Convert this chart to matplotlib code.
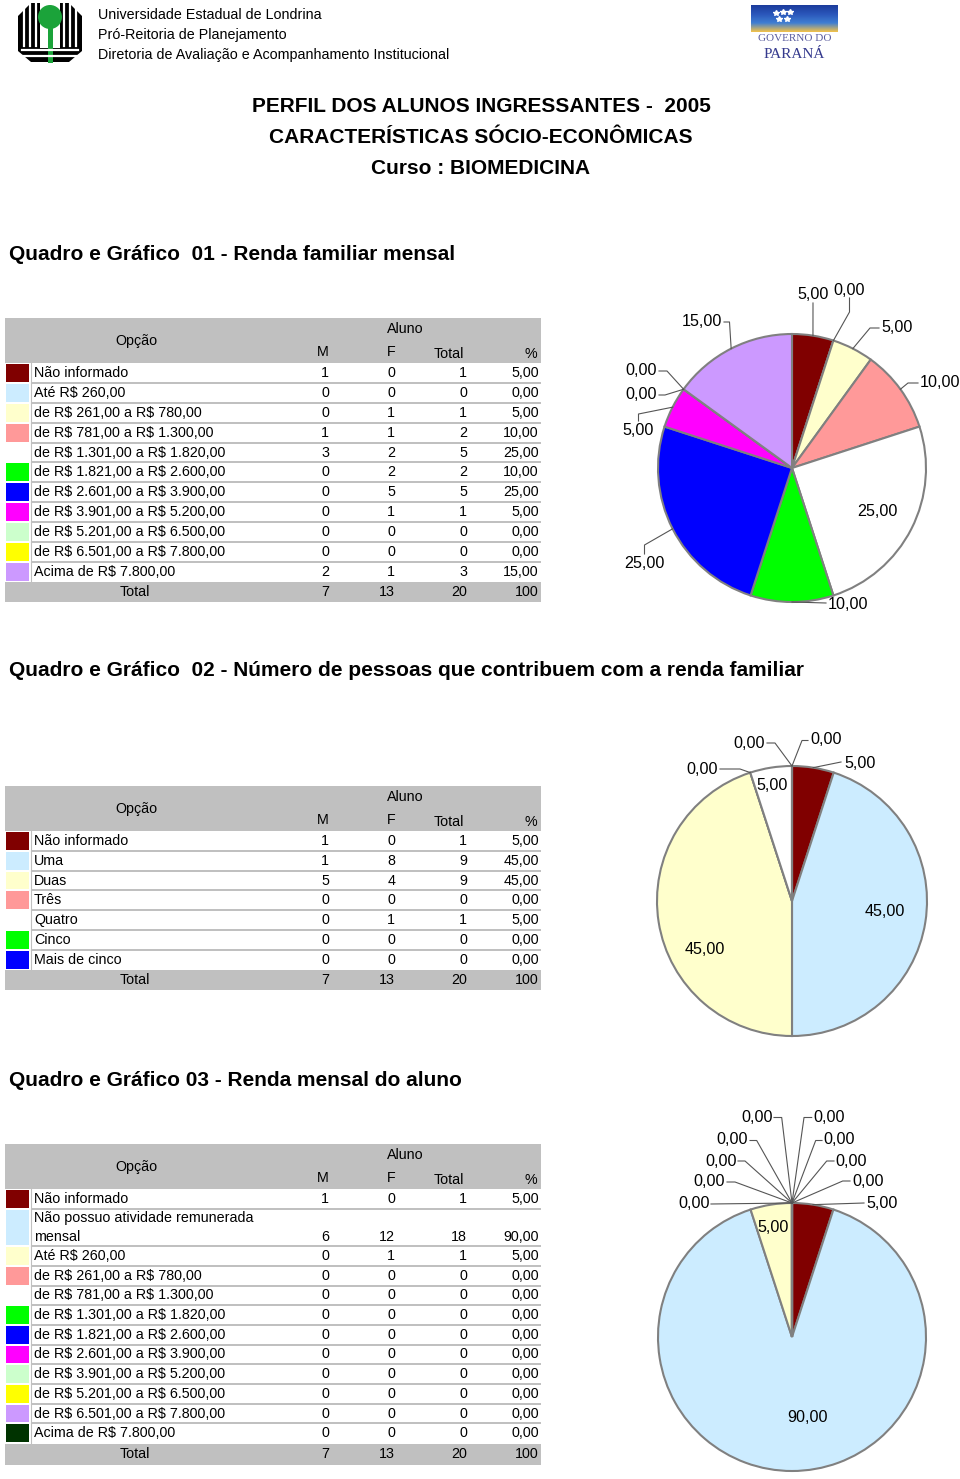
import matplotlib
matplotlib.use('Agg')
import matplotlib.pyplot as plt
import numpy as np
from matplotlib.patches import Rectangle, Polygon, Circle

plt.rcParams['font.family'] = ['Liberation Sans', 'DejaVu Sans']
plt.rcParams['text.parse_math'] = False

W, H = 960, 1479

# ---------------- data ----------------
palette = ['#800000', '#CCECFF', '#FFFFCC', '#FF9999', '#FFFFFF', '#00FF00',
           '#0000FF', '#FF00FF', '#CCFFCC', '#FFFF00', '#CC99FF', '#003300']

q1_options = ["Não informado", "Até R$ 260,00", "de R$ 261,00 a R$ 780,00",
              "de R$ 781,00 a R$ 1.300,00", "de R$ 1.301,00 a R$ 1.820,00",
              "de R$ 1.821,00 a R$ 2.600,00", "de R$ 2.601,00 a R$ 3.900,00",
              "de R$ 3.901,00 a R$ 5.200,00", "de R$ 5.201,00 a R$ 6.500,00",
              "de R$ 6.501,00 a R$ 7.800,00", "Acima de R$ 7.800,00"]
q1_m = [1, 0, 0, 1, 3, 0, 0, 0, 0, 0, 2]
q1_f = [0, 0, 1, 1, 2, 2, 5, 1, 0, 0, 1]
q1_total = [1, 0, 1, 2, 5, 2, 5, 1, 0, 0, 3]
q1_pct = [5.0, 0.0, 5.0, 10.0, 25.0, 10.0, 25.0, 5.0, 0.0, 0.0, 15.0]
q1_sum = ["7", "13", "20", "100"]

q2_options = ["Não informado", "Uma", "Duas", "Três", "Quatro", "Cinco", "Mais de cinco"]
q2_m = [1, 1, 5, 0, 0, 0, 0]
q2_f = [0, 8, 4, 0, 1, 0, 0]
q2_total = [1, 9, 9, 0, 1, 0, 0]
q2_pct = [5.0, 45.0, 45.0, 0.0, 5.0, 0.0, 0.0]
q2_sum = ["7", "13", "20", "100"]

q3_options = ["Não informado", "Não possuo atividade remunerada\nmensal", "Até R$ 260,00",
              "de R$ 261,00 a R$ 780,00", "de R$ 781,00 a R$ 1.300,00",
              "de R$ 1.301,00 a R$ 1.820,00", "de R$ 1.821,00 a R$ 2.600,00",
              "de R$ 2.601,00 a R$ 3.900,00", "de R$ 3.901,00 a R$ 5.200,00",
              "de R$ 5.201,00 a R$ 6.500,00", "de R$ 6.501,00 a R$ 7.800,00",
              "Acima de R$ 7.800,00"]
q3_m = [1, 6, 0, 0, 0, 0, 0, 0, 0, 0, 0, 0]
q3_f = [0, 12, 1, 0, 0, 0, 0, 0, 0, 0, 0, 0]
q3_total = [1, 18, 1, 0, 0, 0, 0, 0, 0, 0, 0, 0]
q3_pct = [5.0, 90.0, 5.0, 0.0, 0.0, 0.0, 0.0, 0.0, 0.0, 0.0, 0.0, 0.0]
q3_sum = ["7", "13", "20", "100"]

header_lines = ["Universidade Estadual de Londrina", "Pró-Reitoria de Planejamento",
                "Diretoria de Avaliação e Acompanhamento Institucional"]
title_lines = ["PERFIL DOS ALUNOS INGRESSANTES -  2005",
               "CARACTERÍSTICAS SÓCIO-ECONÔMICAS", "Curso : BIOMEDICINA"]
section_titles = ["Quadro e Gráfico  01 - Renda familiar mensal",
                  "Quadro e Gráfico  02 - Número de pessoas que contribuem com a renda familiar",
                  "Quadro e Gráfico 03 - Renda mensal do aluno"]

# ---------------- layout ----------------
TFS = 10.3      # table font size
PFS = 11.6      # pie label font size
GRAY = '#C0C0C0'


def fmt(v):
    return f"{v:.2f}".replace('.', ',')


fig = plt.figure(figsize=(W / 100, H / 100), dpi=100)
bg = fig.add_axes([0, 0, 1, 1])
bg.set_xlim(0, W)
bg.set_ylim(H, 0)
bg.axis('off')

# ---- UEL logo ----
oct_pts = [(31, 3), (69, 3), (82, 16), (82, 51), (69, 62), (31, 62), (18, 51), (18, 16)]
bg.add_patch(Polygon(oct_pts, closed=True, fc='black', ec='none'))
for x in [24, 30, 36, 64, 70, 76]:
    bg.plot([x, x], [2, 46], color='white', lw=1.6)
bg.add_patch(Rectangle((40, 0), 20, 48, fc='white', ec='none'))
for y in [50, 56]:
    bg.plot([22, 78], [y, y], color='white', lw=1.6)
bg.add_patch(Rectangle((47.5, 26), 5, 37, fc='#1BA33A', ec='none'))
bg.add_patch(Circle((50, 17), 12, fc='#1BA33A', ec='none'))

# ---- Paraná logo ----
grad = np.linspace(0, 1, 60)[:, None]
cmap = matplotlib.colors.LinearSegmentedColormap.from_list(
    'pr', ['#1C3C9C', '#2A56BA', '#3F7ED2', '#F2C24A'])
bg.imshow(np.repeat(grad, 10, axis=1), cmap=cmap, extent=(751, 838, 32, 5),
          origin='upper', aspect='auto', zorder=1)
for (sx, sy) in [(776, 13), (783, 12), (790, 12), (779, 19), (787, 19)]:
    bg.plot(sx, sy, marker='*', color='white', ms=4, zorder=2)
bg.text(794.5, 41, "GOVERNO DO", family=['Liberation Serif', 'DejaVu Serif'],
        fontsize=8, color='#5A5C9E', ha='center', va='baseline')
bg.text(794.5, 58, "PARANÁ", family=['Liberation Serif', 'DejaVu Serif'],
        fontsize=11, color='#353A8E', ha='center', va='baseline')

# ---- header text ----
for i, s in enumerate(header_lines):
    bg.text(98, 15 + 20 * i, s, fontsize=10.3, ha='left', va='center')
for i, s in enumerate(title_lines):
    bg.text(481, 107 + 30.5 * i, s, fontsize=15, fontweight='bold', ha='center', va='center')
for s, y in zip(section_titles, [254, 671, 1081]):
    bg.text(9, y, s, fontsize=15, fontweight='bold', ha='left', va='center')


def draw_table(top, row_h, options, m, f, tot, pct, sums, total_h, two_line_h=None):
    x0, x1 = 5, 541
    hdr_h = 45
    bg.add_patch(Rectangle((x0, top), x1 - x0, hdr_h, fc=GRAY, ec='none'))
    bg.text(136, top + 23, "Opção", fontsize=TFS, ha='center', va='center')
    bg.text(405, top + 11, "Aluno", fontsize=TFS, ha='center', va='center')
    hy = top + 34.5
    bg.text(323, hy, "M", fontsize=TFS, ha='center', va='center')
    bg.text(391, hy, "F", fontsize=TFS, ha='center', va='center')
    bg.text(449, hy + 1, "Total", fontsize=TFS, ha='center', va='center')
    bg.text(531, hy + 1, "%", fontsize=TFS, ha='center', va='center')
    y = top + hdr_h
    for i, opt in enumerate(options):
        lines = opt.split('\n')
        h = row_h if len(lines) == 1 else (two_line_h or 2 * row_h)
        bg.add_patch(Rectangle((6, y + 1), 23, h - 2, fc=palette[i], ec='none'))
        bg.add_patch(Rectangle((31, y), x1 - 31, h, fc='white', ec='none'))
        if i > 0:
            bg.add_patch(Rectangle((31, y - 1), x1 - 31, 2, fc=GRAY, ec='none', zorder=3))
        bg.plot([30.5, 30.5], [y, y + h], color=GRAY, lw=0.8)
        lh = h / len(lines)
        for j, ln in enumerate(lines):
            bg.text(34, y + lh * (j + 0.5), ln, fontsize=TFS, ha='left', va='center')
        ny = y + lh * (len(lines) - 0.5)
        bg.text(329, ny, str(m[i]), fontsize=TFS, ha='right', va='center')
        bg.text(395, ny, str(f[i]), fontsize=TFS, ha='right', va='center')
        bg.text(467, ny, str(tot[i]), fontsize=TFS, ha='right', va='center')
        bg.text(539, ny, fmt(pct[i]), fontsize=TFS, ha='right', va='center')
        y += h
    y += 0.5
    bg.add_patch(Rectangle((x0, y), x1 - x0, total_h, fc=GRAY, ec='none'))
    cy = y + total_h / 2
    bg.text(135, cy, "Total", fontsize=TFS, ha='center', va='center')
    bg.text(329, cy, sums[0], fontsize=TFS, ha='right', va='center')
    bg.text(395, cy, sums[1], fontsize=TFS, ha='right', va='center')
    bg.text(467, cy, sums[2], fontsize=TFS, ha='right', va='center')
    bg.text(539, cy, sums[3], fontsize=TFS, ha='right', va='center')


draw_table(318, 19.9, q1_options, q1_m, q1_f, q1_total, q1_pct, q1_sum, 19.5)
draw_table(786, 19.83, q2_options, q2_m, q2_f, q2_total, q2_pct, q2_sum, 20)
draw_table(1144, 19.7, q3_options, q3_m, q3_f, q3_total, q3_pct, q3_sum, 21, two_line_h=37.4)


def draw_pie(cx, cy, r, values, colors, layout):
    k = 1.75
    ax = fig.add_axes([(cx - k * r) / W, 1 - (cy + k * r) / H, 2 * k * r / W, 2 * k * r / H])
    ax.pie(values, colors=colors, startangle=90, counterclock=False,
           wedgeprops=dict(edgecolor='#808080', linewidth=1.5))
    ax.set_xlim(-k, k)
    ax.set_ylim(-k, k)
    ax.set_aspect('equal')
    ax.axis('off')

    def p(px, py):
        return (px - cx) / r, (cy - py) / r

    total = float(sum(values))
    cum = 0.0
    for v, lay in zip(values, layout):
        theta = np.deg2rad(90 - 360 * (cum + v / 2) / total)
        cum += v
        tx, ty, ha, va, path = lay
        x, y = p(tx, ty)
        ax.text(x, y, fmt(v), fontsize=PFS, ha=ha, va=va, clip_on=False, zorder=5)
        if path:
            pts = [p(*q) for q in path] + [(np.cos(theta), np.sin(theta))]
            xs, ys = zip(*pts)
            ax.plot(xs, ys, color='#555555', lw=0.8, clip_on=False, zorder=4)


# label layout in page pixels: (text x, text y, ha, va, leader path from label to pie)
pie1_layout = [
    (813, 302, 'center', 'bottom', [(813, 303)]),
    (849.5, 298, 'center', 'bottom', [(849.5, 298), (849.5, 312)]),
    (881, 328, 'left', 'center', [(879, 328), (870, 328)]),
    (920, 383, 'left', 'center', [(918, 383), (908, 383)]),
    (877, 512, 'center', 'center', None),
    (828, 605, 'left', 'center', [(826, 603)]),
    (644.5, 556, 'center', 'top', [(644.5, 554), (644.5, 545)]),
    (638.5, 423, 'center', 'top', [(638.5, 421), (638.5, 414)]),
    (657, 395, 'right', 'center', [(659, 395), (665, 395)]),
    (657, 371, 'right', 'center', [(659, 371), (667, 371)]),
    (722, 322, 'right', 'center', [(724, 322), (729.5, 322)]),
]
pie2_layout = [
    (844, 763, 'left', 'center', [(841, 762)]),
    (885, 911, 'center', 'center', None),
    (705, 950, 'center', 'center', None),
    (718, 770, 'right', 'center', [(720, 769), (740, 769)]),
    (772, 785, 'center', 'center', None),
    (765, 743, 'right', 'center', [(767, 743), (775, 743)]),
    (810, 740, 'left', 'center', [(808, 740.5), (802, 740.5)]),
]
pie3_layout = [
    (866, 1203, 'left', 'center', [(864, 1203)]),
    (808, 1418, 'center', 'center', None),
    (773, 1228, 'center', 'center', None),
    (710, 1204, 'right', 'center', [(711, 1204)]),
    (725, 1182, 'right', 'center', [(727, 1182), (735, 1182)]),
    (737, 1161, 'right', 'center', [(738, 1161), (745, 1161)]),
    (748, 1140, 'right', 'center', [(750, 1140.5), (756.7, 1140.5)]),
    (773, 1118, 'right', 'center', [(774, 1117.5), (781.7, 1117.5)]),
    (813, 1118, 'left', 'center', [(811.7, 1117.5), (804, 1117.5)]),
    (823, 1140, 'left', 'center', [(822, 1140.5), (815.7, 1140.5)]),
    (835, 1161, 'left', 'center', [(834, 1161), (826.7, 1161)]),
    (852, 1182, 'left', 'center', [(850, 1181), (842.7, 1181)]),
]

draw_pie(792, 468, 134, q1_pct, palette[:len(q1_pct)], pie1_layout)
draw_pie(792, 901, 135, q2_pct, palette[:len(q2_pct)], pie2_layout)
draw_pie(792, 1337, 134, q3_pct, palette[:len(q3_pct)], pie3_layout)

bg.set_xlim(0, W)
bg.set_ylim(H, 0)
fig.savefig('out.png', dpi=100)
